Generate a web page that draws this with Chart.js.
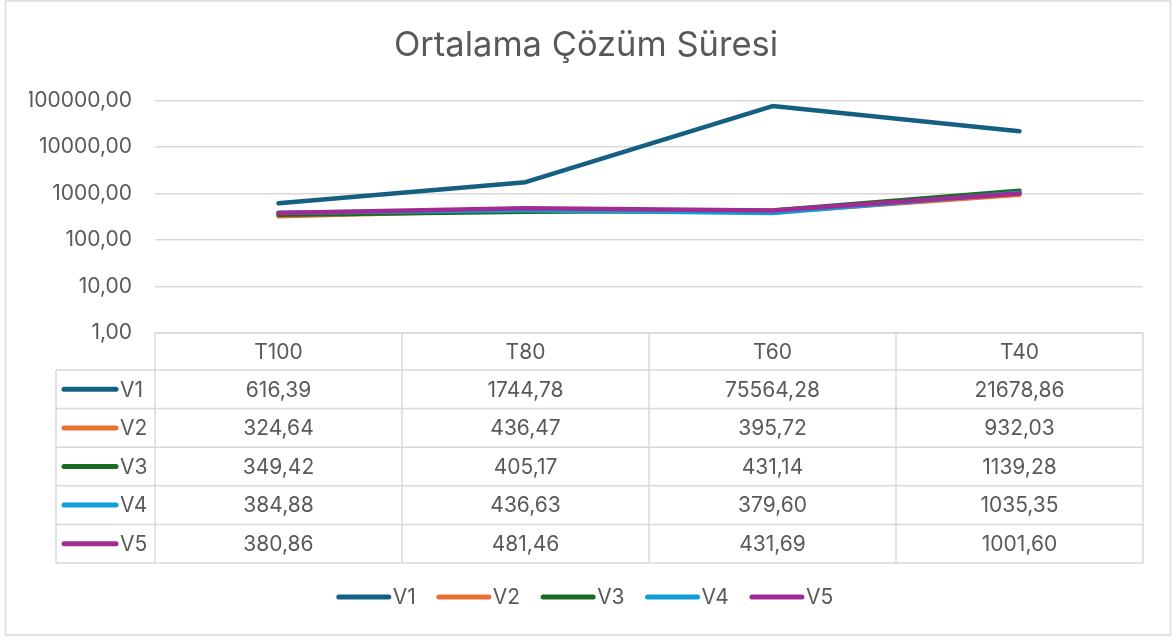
<!DOCTYPE html>
<html>
<head>
<meta charset="utf-8">
<script src="https://cdn.jsdelivr.net/npm/chart.js@4.4.1/dist/chart.umd.min.js"></script>
<style>
  html, body { margin: 0; padding: 0; background: #fff; }
  canvas { display: block; }
</style>
</head>
<body>
<canvas id="chart" width="1172" height="637"></canvas>
<script>
/* ---------- data ---------- */
const categories = ["T100", "T80", "T60", "T40"];
const seriesNames = ["V1", "V2", "V3", "V4", "V5"];
const v1Values = [616.39, 1744.78, 75564.28, 21678.86];
const v2Values = [324.64, 436.47, 395.72, 932.03];
const v3Values = [349.42, 405.17, 431.14, 1139.28];
const v4Values = [384.88, 436.63, 379.60, 1035.35];
const v5Values = [380.86, 481.46, 431.69, 1001.60];
const yTicks = [1, 10, 100, 1000, 10000, 100000];

const seriesValues = [v1Values, v2Values, v3Values, v4Values, v5Values];
const seriesColors = ["#156082", "#E97132", "#196B24", "#0F9ED5", "#A02B93"];

const FONT = "Inter, 'Open Sans', sans-serif";
const TEXT = "#595959";
const LINE = "#d9d9d9";

// 1234.5 -> "1234,50"
const fmt = v => v.toFixed(2).replace(".", ",");

/* ---------- border, data table and legend ---------- */
const framePlugin = {
  id: "frame",
  beforeDraw(chart) {
    const ctx = chart.ctx;
    ctx.save();
    ctx.fillStyle = "#fff";
    ctx.fillRect(0, 0, chart.width, chart.height);
    ctx.strokeStyle = LINE;
    ctx.lineWidth = 1.5;
    ctx.strokeRect(5.5, 1, 1165, 634);
    ctx.restore();
  }
};

const tablePlugin = {
  id: "dataTable",
  afterDraw(chart) {
    const ctx = chart.ctx;
    const a = chart.chartArea;
    const xs = chart.scales.x;
    const colW = (a.right - a.left) / categories.length;
    const top = a.bottom;
    const headH = 37;
    const rowH = 38.6;
    const labelL = 56;
    const bottom = top + headH + rowH * seriesNames.length;

    ctx.save();
    ctx.strokeStyle = LINE;
    ctx.lineWidth = 1.5;
    ctx.beginPath();
    // header top
    ctx.moveTo(a.left, top); ctx.lineTo(a.right, top);
    // row lines
    for (let r = 0; r <= seriesNames.length; r++) {
      const y = top + headH + r * rowH;
      ctx.moveTo(labelL, y); ctx.lineTo(a.right, y);
    }
    // verticals
    ctx.moveTo(labelL, top + headH); ctx.lineTo(labelL, bottom);
    for (let c = 0; c <= categories.length; c++) {
      const x = a.left + c * colW;
      ctx.moveTo(x, top); ctx.lineTo(x, bottom);
    }
    ctx.stroke();

    ctx.font = "21px " + FONT;
    ctx.fillStyle = TEXT;
    ctx.textAlign = "center";
    ctx.textBaseline = "middle";
    categories.forEach((cat, c) => {
      const cx = xs.getPixelForTick(c);
      ctx.fillText(cat, cx, top + headH / 2 + 1);
      seriesValues.forEach((vals, r) => {
        ctx.fillText(fmt(vals[c]), cx, top + headH + r * rowH + rowH / 2 + 1);
      });
    });

    // row labels with line keys
    seriesNames.forEach((name, r) => {
      const cy = top + headH + r * rowH + rowH / 2;
      ctx.strokeStyle = seriesColors[r];
      ctx.lineWidth = 5;
      ctx.lineCap = "round";
      ctx.beginPath();
      ctx.moveTo(64, cy); ctx.lineTo(116, cy);
      ctx.stroke();
      ctx.textAlign = "left";
      ctx.fillText(name, 120, cy + 1);
    });

    // legend
    const legY = 597;
    const swatch = 52, gap = 4, spacing = 21;
    const widths = seriesNames.map(n => swatch + gap + ctx.measureText(n).width);
    const total = widths.reduce((s, w) => s + w, 0) + spacing * (widths.length - 1);
    let x = 585 - total / 2;
    seriesNames.forEach((name, i) => {
      ctx.strokeStyle = seriesColors[i];
      ctx.lineWidth = 5;
      ctx.lineCap = "round";
      ctx.beginPath();
      ctx.moveTo(x + 2, legY); ctx.lineTo(x + swatch, legY);
      ctx.stroke();
      ctx.textAlign = "left";
      ctx.fillText(name, x + swatch + gap, legY + 1);
      x += widths[i] + spacing;
    });
    ctx.restore();
  }
};

/* ---------- chart ---------- */
new Chart(document.getElementById("chart"), {
  type: "line",
  data: {
    labels: categories,
    datasets: seriesNames.map((name, i) => ({
      label: name,
      data: seriesValues[i],
      borderColor: seriesColors[i],
      backgroundColor: seriesColors[i],
      borderWidth: 4.5,
      borderCapStyle: "round",
      borderJoinStyle: "round",
      pointRadius: 0,
      tension: 0,
      order: seriesNames.length - i
    }))
  },
  options: {
    responsive: false,
    animation: false,
    layout: { padding: { top: 4, right: 29, bottom: 0, left: 29 } },
    plugins: {
      legend: { display: false },
      tooltip: { enabled: false },
      title: {
        display: true,
        text: "Ortalama Çözüm Süresi",
        color: TEXT,
        font: { family: FONT, size: 34.5, weight: "normal" },
        padding: { top: 21, bottom: 34 }
      }
    },
    scales: {
      x: {
        type: "category",
        offset: true,
        grid: { display: false },
        border: { display: false },
        ticks: { display: false },
        afterFit(scale) { scale.height = 304; }
      },
      y: {
        type: "logarithmic",
        min: 1,
        max: 100000,
        afterBuildTicks(scale) { scale.ticks = yTicks.map(v => ({ value: v })); },
        afterFit(scale) { scale.width = 126; },
        grid: { color: LINE, lineWidth: 1.5, drawTicks: false },
        border: { display: false },
        ticks: {
          color: TEXT,
          padding: 23,
          font: { family: FONT, size: 21 },
          callback: v => fmt(v)
        }
      }
    }
  },
  plugins: [framePlugin, tablePlugin]
});
</script>
</body>
</html>
